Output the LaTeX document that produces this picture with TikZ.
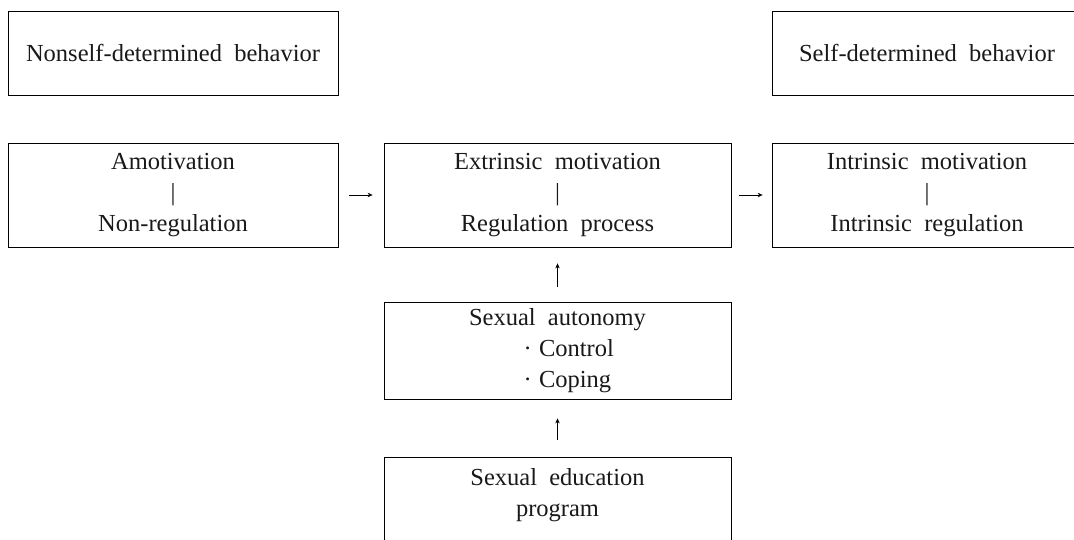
\documentclass[tikz,border=0pt]{standalone}
\usepackage{fontspec}
\setmainfont{Liberation Serif}[WordSpace=2]
\usetikzlibrary{arrows.meta}
\tikzset{
  box/.style={draw=black, line width=0.8pt, inner sep=0pt, align=center,
    font=\fontsize{24.5}{31}\selectfont, text=black!90},
  arr/.style={line width=0.6pt, -{Stealth[length=5pt,width=4.5pt]}}
}
\begin{document}
\begin{tikzpicture}[x=1pt,y=-1pt]
\useasboundingbox (0,0) rectangle (1074,540);
\node[box, minimum width=330pt, minimum height=84pt] (nonself) at (173,53) {Nonself-determined behavior};
\node[box, minimum width=310pt, minimum height=84pt] (self) at (927,53) {Self-determined behavior};
\node[box, minimum width=330pt, minimum height=104pt] (amot) at (173,195) {Amotivation\\|\\Non-regulation};
\node[box, minimum width=347pt, minimum height=104pt] (extr) at (557.5,195) {Extrinsic motivation\\|\\Regulation process};
\node[box, minimum width=310pt, minimum height=104pt] (intr) at (927,195) {Intrinsic motivation\\|\\Intrinsic regulation};
\node[box, minimum width=347pt, minimum height=97pt] (auto) at (557.5,350.5) {Sexual autonomy\\\hspace*{20pt}\makebox[88pt][l]{·\hspace{0.3em}Control}\\\hspace*{20pt}\makebox[88pt][l]{·\hspace{0.3em}Coping}};
\node[box, minimum width=347pt, minimum height=102pt] (edu) at (557.5,508) {Sexual education\\program\\\mbox{}};
\draw[arr, shorten <=11pt, shorten >=11pt] (amot.east) -- (extr.west);
\draw[arr, shorten <=8pt, shorten >=9pt] (extr.east) -- (intr.west);
\draw[arr, shorten <=15pt, shorten >=16pt] (auto.north) -- (extr.south);
\draw[arr, shorten <=17pt, shorten >=19pt] (edu.north) -- (auto.south);
\end{tikzpicture}
\end{document}
